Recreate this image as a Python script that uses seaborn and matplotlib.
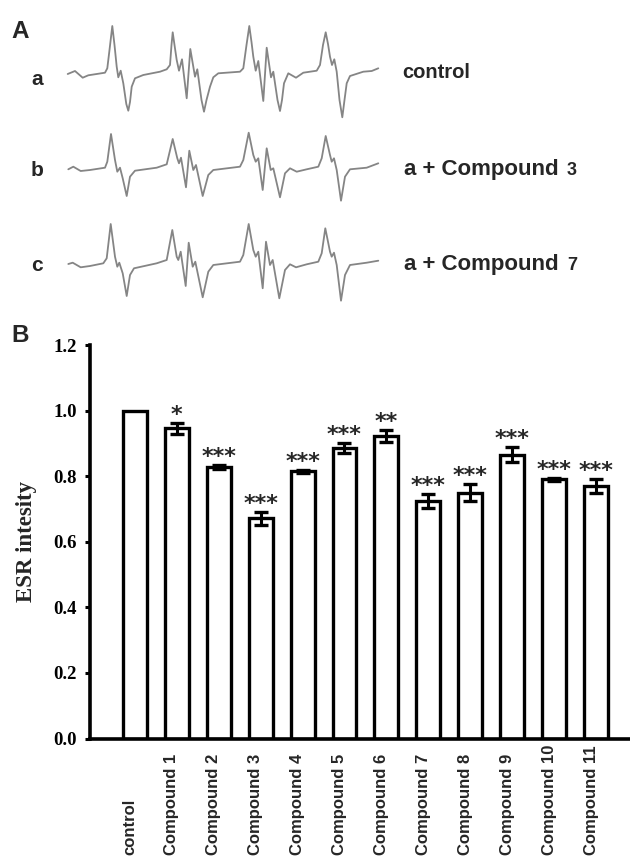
import numpy as np
import pandas as pd
import matplotlib
matplotlib.use("Agg")
import matplotlib.pyplot as plt
import matplotlib.transforms as mtransforms
import seaborn as sns

# ---------------- Panel B data ----------------
categories = ["control", "Compound 1", "Compound 2", "Compound 3", "Compound 4",
              "Compound 5", "Compound 6", "Compound 7", "Compound 8", "Compound 9",
              "Compound 10", "Compound 11"]
esr_intensity = [1.000, 0.946, 0.828, 0.671, 0.815, 0.885, 0.922, 0.725,
                 0.749, 0.865, 0.790, 0.770]
esr_error = [0.0, 0.016, 0.007, 0.019, 0.005, 0.015, 0.018, 0.021,
             0.026, 0.023, 0.005, 0.021]
significance = ["", "*", "***", "***", "***", "***", "**", "***",
                "***", "***", "***", "***"]
yticks = [0.0, 0.2, 0.4, 0.6, 0.8, 1.0, 1.2]

# ---------------- Panel A data (ESR spectra) ----------------
trace_labels = ["a", "b", "c"]
trace_names = ["control", "a + Compound", "a + Compound"]
trace_suffix = ["", "3", "7"]

field_a = [-0.3, 7, 14.7, 20.3, 37, 39.3, 41.5, 44.3, 46.5, 48.7, 50.3, 52.7, 55.3,
           58.3, 60.3, 62, 63.7, 67, 75.3, 92, 98.7, 102, 103.5, 104.7, 106.5, 108.7,
           111, 114, 118.7, 122.3, 127, 129.3, 133.5, 136, 138.5, 142, 145.3, 150.3,
           172, 175.3, 178.5, 181.3, 183.5, 185.3, 187.7, 190.3, 195.3, 198.7, 203,
           205.3, 209.5, 212, 214, 216, 220.3, 228, 235.3, 248.7, 252, 255, 257.7,
           260, 262, 264, 266.3, 268.7, 271.5, 274.3, 276.5, 278.7, 282, 295.3,
           303.7, 310.3]
signal_a = [-1, 2, -4.7, -2.3, 0.3, 4.7, 23, 47, 28, 6.3, -4.3, 2.3, -10.3,
            -31, -37.7, -29, -13.7, -5.3, -2, 1.3, 3.7, 8, 28, 40.7, 28, 13,
            2.3, 13.7, -25.3, 24, -3.7, 3.7, -27, -38.7, -27, -13.7, -4.3, -0.3,
            1.3, 4.7, 28, 47, 31, 16.3, 2.3, 12, -28, 25.3, -4.3,
            1.3, -27, -38, -27, -10.3, -0.3, -4.7, 0.3, 2.3, 8, 28, 40.7,
            29, 16.3, 8, 13.7, 1.3, -27, -44.3, -27, -10.3, -3, 1.3,
            2, 4.7]

field_b = [0.3, 5.3, 12.7, 22, 37, 39.3, 43, 47, 49.3, 52, 54.7, 58.7, 62, 67, 88.7,
           98.7, 104.7, 109.3, 111, 113, 118, 121.3, 125.3, 128, 134.7, 140.3, 145.3,
           172, 175.3, 180.7, 185.3, 187.7, 190.3, 194.7, 198.7, 202.7, 205.3, 212,
           217, 222, 228.7, 238.7, 250.3, 253.7, 257.7, 262, 263.7, 266, 268.7, 273,
           277, 282, 298.7, 310.3]
signal_b = [-1.3, 1.3, -3, -2, 0.3, 6.3, 34, 8, -3.7, 0.3, -10.3, -28, -8.7, -2.7, 0.3,
            3.7, 29, 9.7, 4.7, 10.3, -19.3, 17.3, -2, 3, -28, -7, -2,
            1.3, 8, 35.3, 13, 6.3, 9.7, -22, 19.7, -2, -0.3, -29.3,
            -5.3, -0.3, -3.7, -1.3, 1.3, 9.7, 32, 13, 6.3, 9.7, -2, -32.7,
            -8.7, -1.3, 0.3, 4.7]

field_c = [0.3, 4.7, 12.7, 22, 35.3, 38.7, 42.7, 47, 49.3, 51.3, 54.7, 58.7, 62, 66,
           88.7, 98.7, 104.3, 108.7, 110.3, 112.7, 117.7, 120.7, 124.7, 127.3, 134.7,
           140.3, 145.3, 172, 175.3, 180.7, 185.3, 187.7, 190.3, 194.7, 198, 202,
           204.7, 211.3, 217, 222, 228, 238.7, 250.3, 253.7, 257.3, 262, 263.7, 266,
           268.7, 273, 277, 282, 298.7, 310.3]
signal_c = [-1, 0.3, -4.3, -3, -0.3, 4.7, 39, 6.3, -3.7, 0.3, -10.3, -33, -12, -5.3,
            -0.3, 3, 33, 6.3, 3, 11.3, -23, 20.3, -3.7, 1.3, -34.3,
            -8.7, -2, 1.3, 8, 39, 13, 6.3, 11.3, -25.3, 21.3, -2,
            3, -35.3, -7, -1.3, -4.3, -1.3, 1.3, 9.7, 34.7, 11.3, 6.3, 10.3,
            -2, -37.7, -12, -2, 0.3, 2.3]

# ---------------- Figure ----------------
sns.set_style("ticks")
plt.rcParams["font.family"] = ["Liberation Sans", "DejaVu Sans"]

W, H = 630, 859
fig = plt.figure(figsize=(W / 100, H / 100), dpi=100)


def px_axes(left, top, width, height):
    return fig.add_axes([left / W, 1 - (top + height) / H, width / W, height / H])


def fig_text(x, y, s, **kw):
    fig.text(x / W, 1 - y / H, s, **kw)


# ---- Panel A ----
fig_text(11, 38, "A", fontsize=17.5, fontweight="bold", va="baseline")
traces = [(field_a, signal_a, 73), (field_b, signal_b, 168), (field_c, signal_c, 263)]
label_base = [85, 176, 271]
name_base = [78, 175, 270]
for k, (f, s, base) in enumerate(traces):
    ax = px_axes(60, base - 55, 326, 105)
    sns.lineplot(x=f, y=s, ax=ax, color="#858585", linewidth=1.3, sort=False,
                 estimator=None)
    ax.set_xlim(-8, 318)
    ax.set_ylim(-50, 55)
    ax.axis("off")
    fig_text(37, label_base[k], trace_labels[k], fontsize=15, fontweight="bold",
             ha="center", va="baseline")
    if trace_suffix[k]:
        fig_text(404, name_base[k], trace_names[k], fontsize=16, fontweight="bold",
                 va="baseline")
        fig_text(567, name_base[k], trace_suffix[k], fontsize=13, fontweight="bold",
                 va="baseline")
    else:
        fig_text(402, name_base[k], trace_names[k], fontsize=14.5, fontweight="bold",
                 va="baseline")

# ---- Panel B ----
fig_text(11, 342, "B", fontsize=17.5, fontweight="bold", va="baseline")
axb = px_axes(90, 345, 540, 393.5)
df = pd.DataFrame({"cat": categories, "val": esr_intensity})
sns.barplot(data=df, x="cat", y="val", color="white", saturation=1,
            edgecolor="black", linewidth=2.4, width=0.57, errorbar=None, ax=axb)
xs = np.arange(len(categories))
vals = np.array(esr_intensity)
errs = np.array(esr_error)
mask = errs > 0
axb.errorbar(xs[mask], vals[mask], yerr=errs[mask], fmt="none", ecolor="black",
             elinewidth=2.2, capsize=5, capthick=2.4, zorder=5)
for i in range(len(categories)):
    if significance[i]:
        axb.annotate(significance[i], xy=(xs[i], vals[i] + errs[i]),
                     xytext=(0, 1.5), textcoords="offset points",
                     ha="center", va="baseline", fontsize=16,
                     family=["DejaVu Sans"], fontweight="bold")

axb.set_xlim(-1.07, 11.81)
axb.set_ylim(0, 1.2)
sns.despine(ax=axb)
for side in ("left", "bottom"):
    axb.spines[side].set_linewidth(2.6)
    axb.spines[side].set_color("black")

axb.set_yticks(yticks)
axb.set_yticklabels([f"{v:.1f}" for v in yticks], fontfamily="Liberation Serif",
                    fontweight="bold", fontsize=13.5)
axb.tick_params(axis="y", direction="out", length=3.8, width=2.2, pad=5.5,
                colors="black")
axb.set_xticks(xs)
axb.set_xticklabels(categories, rotation=90, va="bottom", ha="center",
                    fontweight="bold", fontsize=12)
axb.tick_params(axis="x", length=0, pad=84)
shift = mtransforms.ScaledTranslation(-5 / 100, 0, fig.dpi_scale_trans)
for lab in axb.get_xticklabels():
    lab.set_transform(lab.get_transform() + shift)
axb.set_xlabel("")
axb.set_ylabel("ESR intesity", fontfamily="Liberation Serif", fontweight="bold",
               fontsize=16.5, labelpad=12)

fig.savefig("out.png", dpi=100, facecolor="white")
